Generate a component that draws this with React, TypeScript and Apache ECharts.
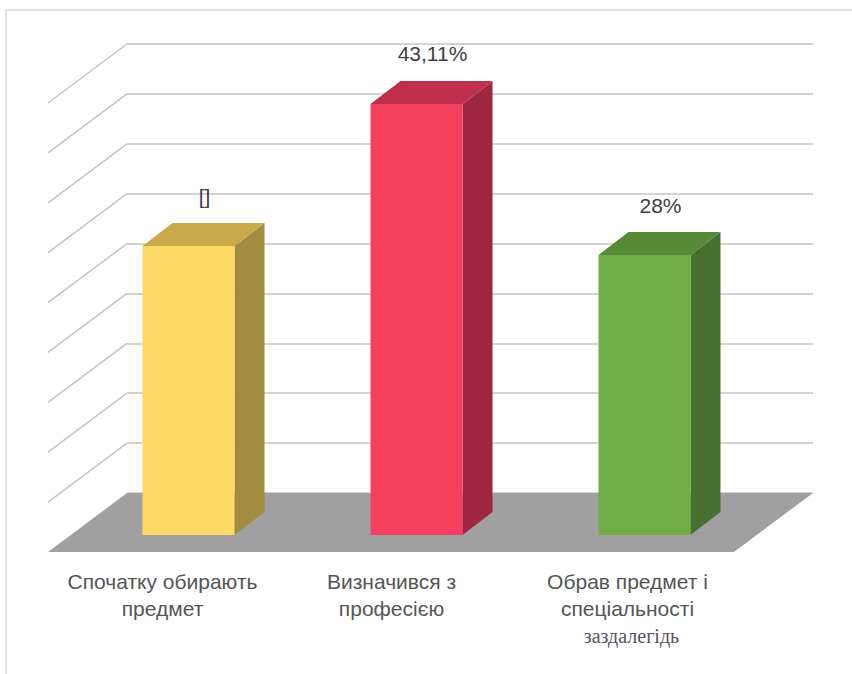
import React, { useEffect, useRef } from "react";
import * as echarts from "echarts";

const categories = [
  "Спочатку обирають\nпредмет",
  "Визначився з\nпрофесією",
  "Обрав предмет і\nспеціальності\nзаздалегідь",
];
const values = [28.89, 43.11, 28];
const valueLabels = ["[]", "43,11%", "28%"];
const frontColors = ["#FFD966", "#F4405E", "#70AD47"];
const topColors = ["#C8A94C", "#BF2E4A", "#568A37"];
const sideColors = ["#A38B40", "#9E2640", "#477030"];
const yMin = 0;
const yMax = 45;
const yInterval = 5;

const DEPTH_DX = 30; // bar depth offset
const DEPTH_DY = 23;
const FLOOR_DX = 79; // floor / side wall depth offset
const FLOOR_DY = 59;

export default function App() {
  const ref = useRef<HTMLDivElement>(null);

  useEffect(() => {
    if (!ref.current) return;
    const chart = echarts.init(ref.current, undefined, { renderer: "svg" });

    const levels: number[] = [];
    for (let v = yMin + yInterval; v <= yMax; v += yInterval) levels.push(v);

    const sans = "Liberation Sans, Arial, sans-serif";
    const option: any = {
      animation: false,
      backgroundColor: "#ffffff",
      graphic: [
        {
          type: "rect",
          z: -10,
          shape: { x: 6, y: 10, width: 900, height: 700 },
          style: { fill: "none", stroke: "#d9d9d9", lineWidth: 1.5 },
        },
      ],
      grid: [
        // back wall
        { left: 127, right: 39, top: 44, bottom: 181 },
        // bar front plane
        { left: 74.5, right: 93.5, top: 85, bottom: 139 },
        // floor front edge / category labels
        { left: 48, right: 117, top: 100, bottom: 122 },
      ],
      xAxis: [
        { gridIndex: 0, type: "value", min: 0, max: 1, show: false },
        { gridIndex: 1, type: "category", data: categories, show: false },
        {
          gridIndex: 2,
          type: "category",
          data: categories,
          axisLine: { show: false },
          axisTick: { show: false },
          axisLabel: {
            interval: 0,
            margin: 16,
            color: "#555555",
            fontFamily: sans,
            fontSize: 21,
            lineHeight: 27,
            formatter: (val: string) => {
              const lines = val.split("\n");
              if (lines.length === 3) {
                return (
                  "{t|" + lines[0] + "}\n{t|" + lines[1] + "}\n{s|" + lines[2] + "}"
                );
              }
              return val;
            },
            rich: {
              t: {
                fontFamily: sans,
                fontSize: 21,
                lineHeight: 27,
                color: "#555555",
                padding: [0, 0, 0, 14],
              },
              s: {
                fontFamily: "Liberation Serif, Times New Roman, serif",
                fontSize: 20,
                lineHeight: 27,
                color: "#5a4f63",
                padding: [0, 0, 0, 22],
              },
            },
          },
        },
      ],
      yAxis: [
        {
          gridIndex: 0,
          type: "value",
          min: yMin,
          max: yMax,
          interval: yInterval,
          axisLine: { show: false },
          axisTick: { show: false },
          axisLabel: { show: false },
          splitLine: { show: true, lineStyle: { color: "#c4c4c4", width: 1.5 } },
        },
        {
          gridIndex: 1,
          type: "value",
          min: yMin,
          max: yMax,
          interval: yInterval,
          show: false,
          splitLine: { show: false },
        },
        { gridIndex: 2, type: "value", show: false, splitLine: { show: false } },
      ],
      series: [
        // side-wall diagonal gridlines
        {
          type: "custom",
          xAxisIndex: 0,
          yAxisIndex: 0,
          z: 1,
          data: levels.map((v) => [0, v]),
          renderItem: (params: any, api: any) => {
            const p = api.coord([api.value(0), api.value(1)]);
            return {
              type: "line",
              shape: { x1: p[0], y1: p[1], x2: p[0] - FLOOR_DX, y2: p[1] + FLOOR_DY },
              style: { stroke: "#c4c4c4", lineWidth: 1.5 },
            };
          },
        },
        // floor
        {
          type: "custom",
          xAxisIndex: 0,
          yAxisIndex: 0,
          z: 2,
          data: [[0, yMin]],
          renderItem: (params: any, api: any) => {
            const a = api.coord([0, yMin]);
            const b = api.coord([1, yMin]);
            return {
              type: "polygon",
              shape: {
                points: [
                  [a[0], a[1]],
                  [b[0], b[1]],
                  [b[0] - FLOOR_DX, b[1] + FLOOR_DY],
                  [a[0] - FLOOR_DX, a[1] + FLOOR_DY],
                ],
              },
              style: { fill: "#a0a0a0" },
            };
          },
        },
        // 3D bars
        {
          type: "custom",
          xAxisIndex: 1,
          yAxisIndex: 1,
          z: 3,
          data: values.map((v, i) => [i, v]),
          encode: { x: 0, y: 1 },
          renderItem: (params: any, api: any) => {
            const i = api.value(0);
            const v = api.value(1);
            const base = api.coord([i, 0]);
            const top = api.coord([i, v]);
            const w = api.size([1, 0])[0] * 0.4035;
            const x0 = base[0] - w / 2;
            const x1 = base[0] + w / 2;
            const y0 = base[1];
            const y1 = top[1];
            return {
              type: "group",
              children: [
                {
                  type: "polygon",
                  shape: {
                    points: [
                      [x1, y1],
                      [x1 + DEPTH_DX, y1 - DEPTH_DY],
                      [x1 + DEPTH_DX, y0 - DEPTH_DY],
                      [x1, y0],
                    ],
                  },
                  style: { fill: sideColors[i] },
                },
                {
                  type: "polygon",
                  shape: {
                    points: [
                      [x0, y1],
                      [x0 + DEPTH_DX, y1 - DEPTH_DY],
                      [x1 + DEPTH_DX, y1 - DEPTH_DY],
                      [x1, y1],
                    ],
                  },
                  style: { fill: topColors[i] },
                },
                {
                  type: "rect",
                  shape: { x: x0, y: y1, width: w, height: y0 - y1 },
                  style: { fill: frontColors[i] },
                },
                {
                  type: "text",
                  x: base[0] + 16,
                  y: y1 - 50,
                  style: {
                    text: valueLabels[i],
                    fill: "#404040",
                    fontSize: 21,
                    fontFamily: sans,
                    align: "center",
                    verticalAlign: "middle",
                  },
                },
              ],
            };
          },
        },
      ],
    };

    chart.setOption(option);
    return () => chart.dispose();
  }, []);

  return (
    <div
      ref={ref}
      style={{ position: "fixed", left: 0, top: 0, width: 852, height: 674, background: "#fff" }}
    />
  );
}
